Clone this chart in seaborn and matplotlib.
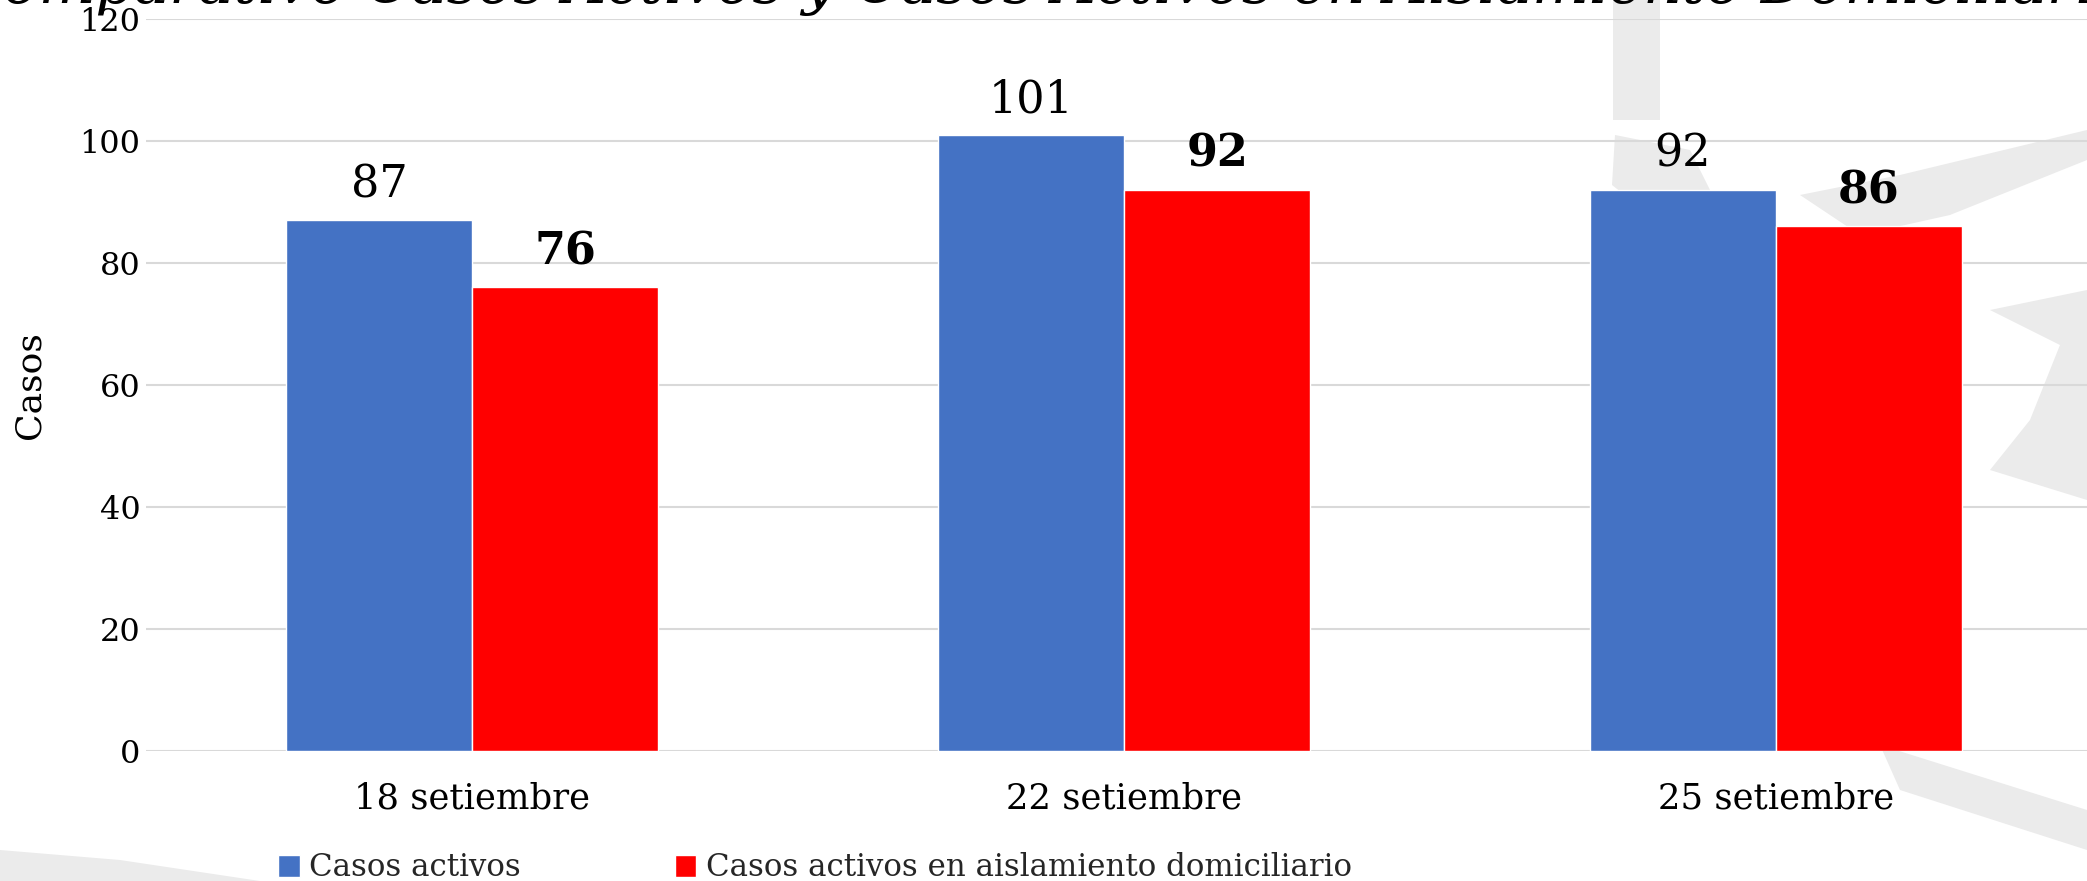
import matplotlib
matplotlib.use("Agg")
import matplotlib.pyplot as plt
from matplotlib.patches import Polygon
import pandas as pd
import seaborn as sns

# Datos
fechas = ["18 setiembre", "22 setiembre", "25 setiembre"]
casos_activos = [87, 101, 92]
casos_aislamiento = [76, 92, 86]
series = ["Casos activos", "Casos activos en aislamiento domiciliario"]
colores = ["#4472C4", "#FF0000"]
y_ticks = [0, 20, 40, 60, 80, 100, 120]

df = pd.DataFrame({
    "fecha": fechas * 2,
    "casos": casos_activos + casos_aislamiento,
    "serie": [series[0]] * len(fechas) + [series[1]] * len(fechas),
})

sns.set_theme(style="white")
plt.rcParams["font.family"] = ["DejaVu Serif", "DejaVu Sans"]

W, H = 2087, 881
fig = plt.figure(figsize=(W / 100, H / 100), dpi=100)
fig.patch.set_facecolor("white")


def px(x, y):
    # píxeles (desde arriba a la izquierda) -> fracción de figura
    return (x / W, 1 - y / H)


# marca de agua gris clara (logo de fondo), detrás de todo
gris = "#ebebeb"
formas = [
    [px(1613, 0), px(1660, 0), px(1660, 120), px(1613, 120)],
    [px(1615, 135), px(1690, 150), px(1715, 200), px(1650, 215), px(1612, 185)],
    [px(1800, 195), px(1900, 175), px(2087, 130), px(2087, 160), px(1950, 215), px(1860, 235)],
    [px(1990, 310), px(2087, 290), px(2087, 500), px(1990, 470), px(2030, 420), px(2060, 345)],
    [px(1880, 745), px(2087, 810), px(2087, 850), px(1900, 790)],
    [px(0, 850), px(120, 860), px(260, 881), px(0, 881)],
]
for f in formas:
    fig.patches.append(Polygon(f, closed=True, transform=fig.transFigure,
                               facecolor=gris, edgecolor="none", zorder=-5))

ax = fig.add_axes([146 / W, 1 - 751 / H, 1956 / W, 732 / H])
ax.patch.set_alpha(0)

sns.barplot(data=df, x="fecha", y="casos", hue="serie", palette=colores,
            width=0.571, saturation=1, ax=ax, legend=True, zorder=3)

ax.set_ylim(0, 120)
ax.set_yticks(y_ticks)
ax.yaxis.grid(True, color="#d9d9d9", linewidth=1.5, zorder=0)
ax.set_axisbelow(True)
for s in ax.spines.values():
    s.set_visible(False)
ax.tick_params(axis="y", length=0, pad=4, labelsize=23, colors="black")
ax.tick_params(axis="x", length=0, pad=22, labelsize=25.5, colors="black")
ax.set_xlabel("")
ax.set_ylabel("Casos", fontsize=26, labelpad=24, color="black", family="DejaVu Serif")

ax.bar_label(ax.containers[0], fontsize=32, padding=10, color="black")
ax.bar_label(ax.containers[1], fontsize=32, padding=10, color="black", fontweight="bold")

leg = ax.legend(loc="center left", bbox_to_anchor=(278 / W, 13 / H), bbox_transform=fig.transFigure,
                ncol=2, frameon=False, fontsize=22.2, handlelength=0.7, handleheight=0.7,
                handletextpad=0.3, columnspacing=5.0, borderaxespad=0, borderpad=0)

fig.text(0.5, 1 - 3 / H, "Comparativo Casos Activos y Casos Activos en Aislamiento Domiciliario",
         ha="center", va="baseline", fontsize=43, style="italic", color="black")

fig.savefig("out.png", dpi=100, facecolor="white")
